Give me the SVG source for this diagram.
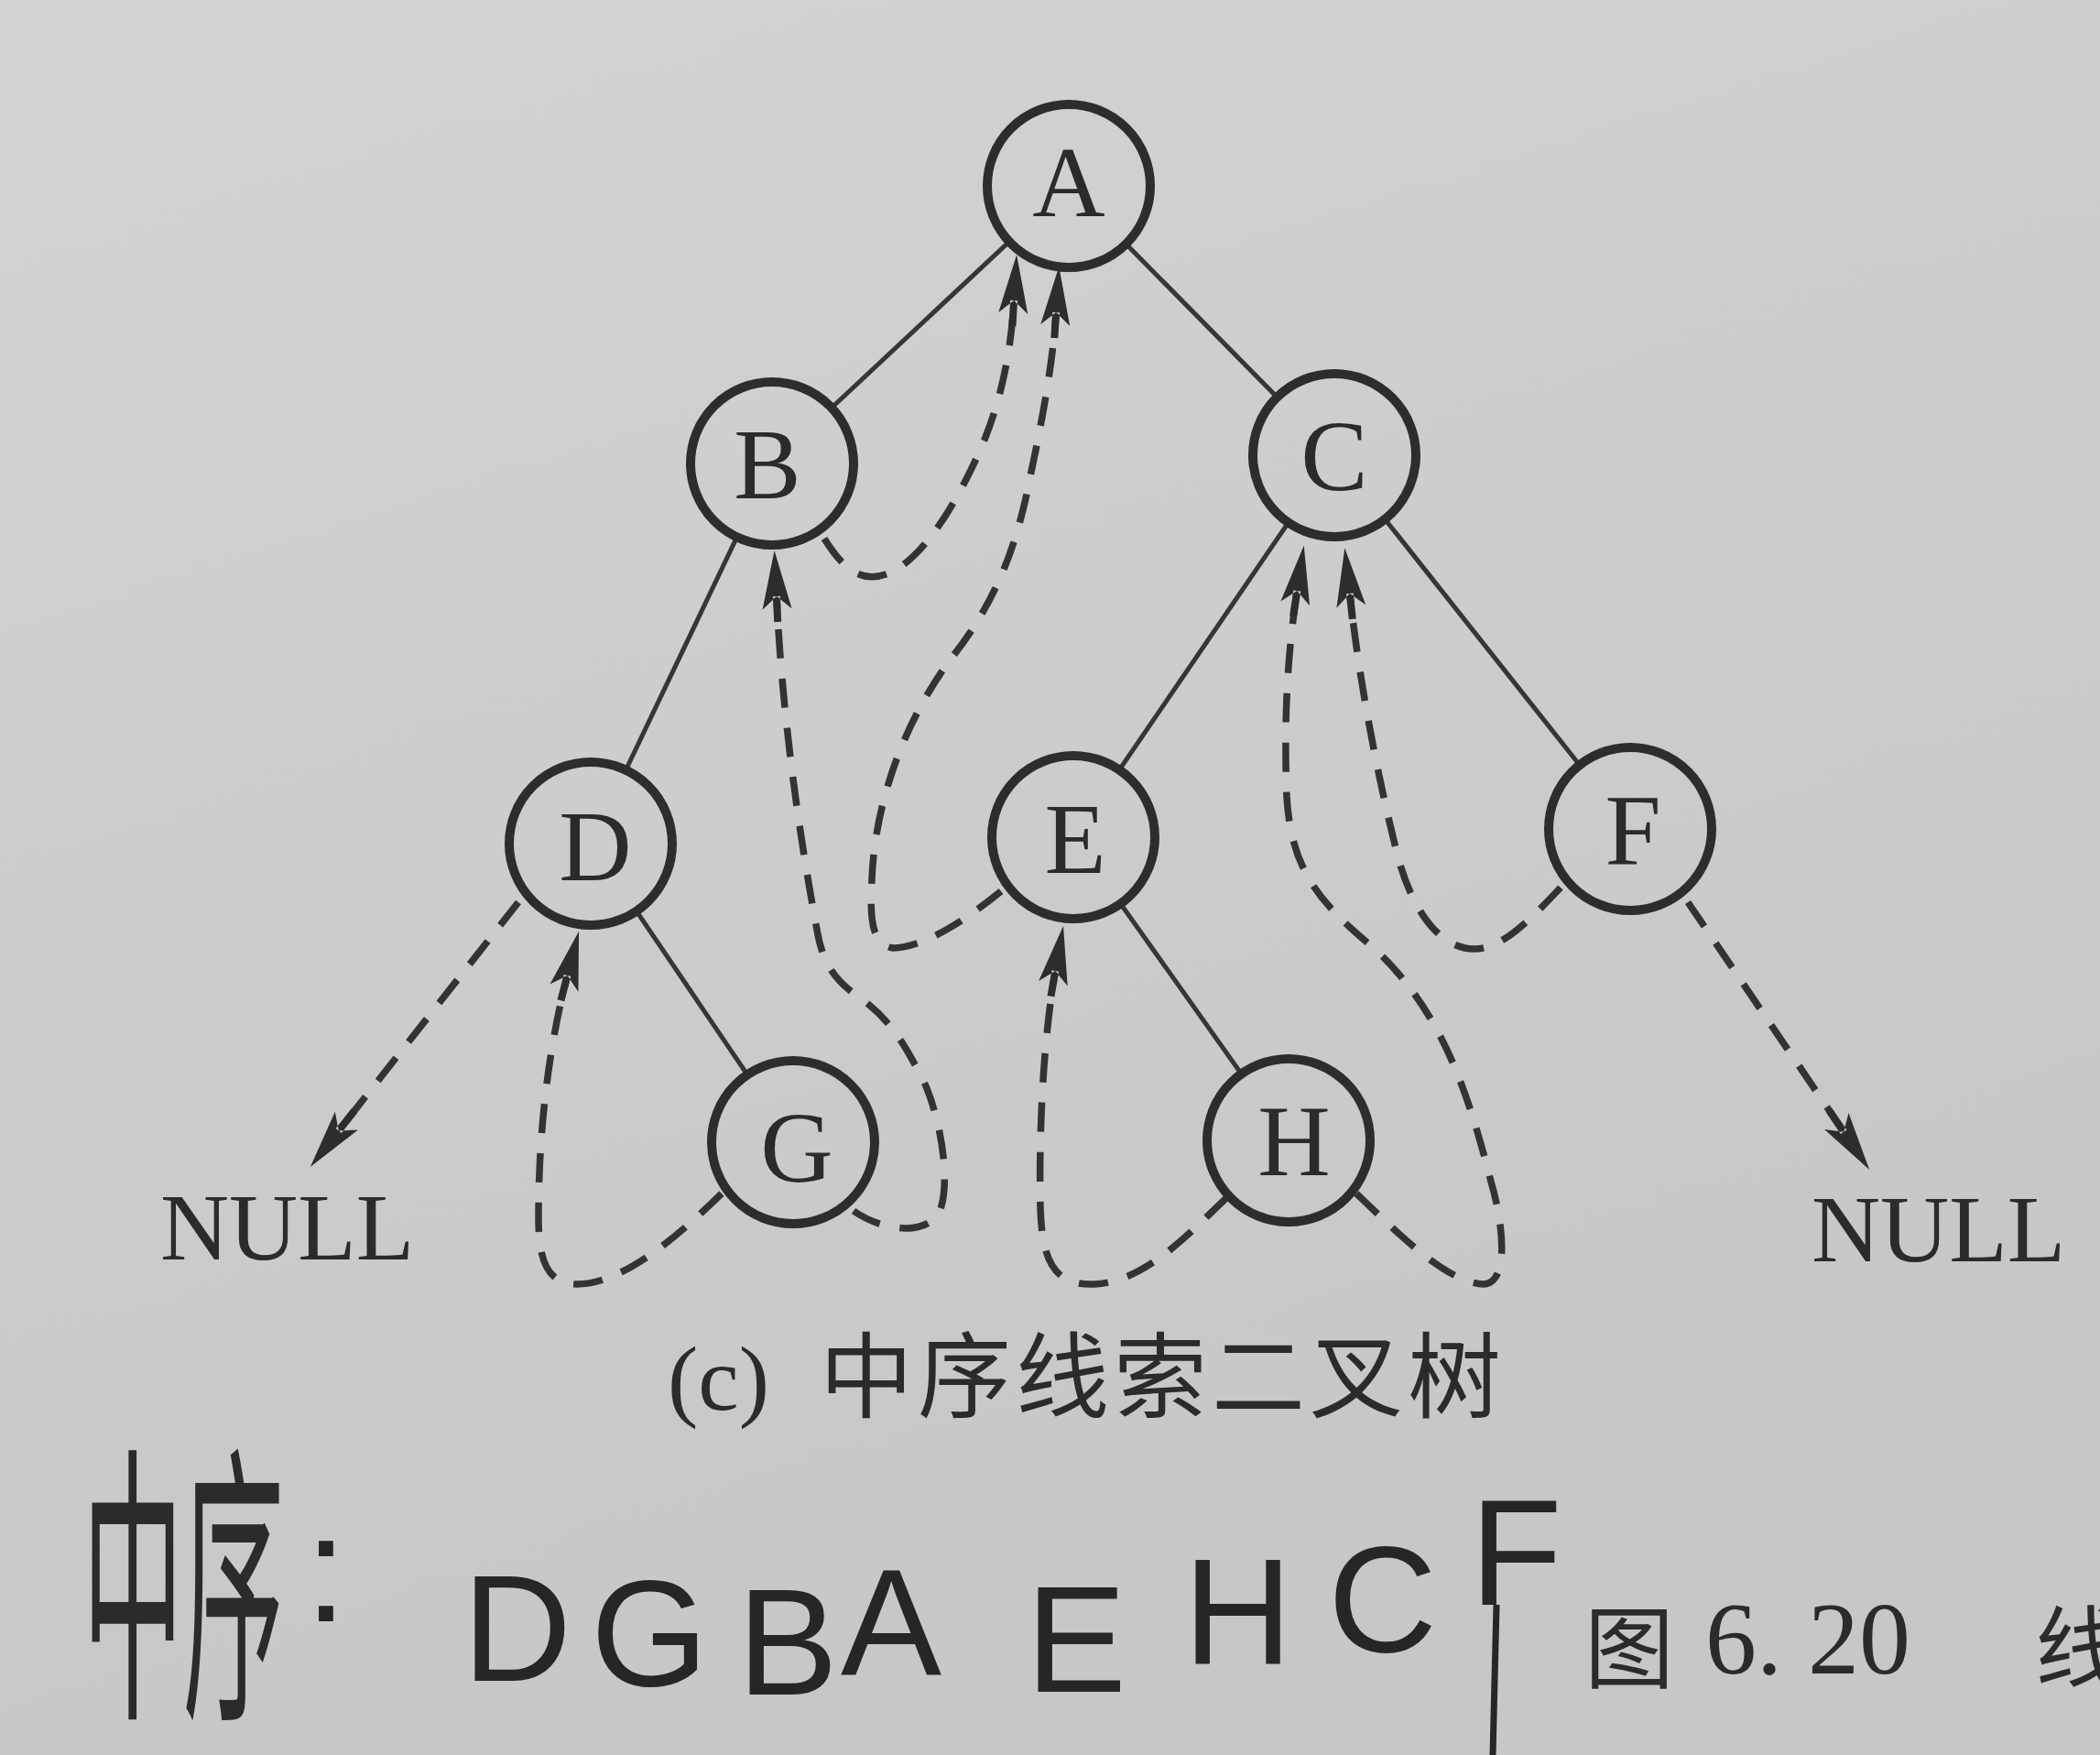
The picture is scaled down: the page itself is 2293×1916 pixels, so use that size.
<svg xmlns="http://www.w3.org/2000/svg" width="2293" height="1916" viewBox="0 0 2293 1916">
<defs>
<linearGradient id="bgGrad" gradientUnits="userSpaceOnUse" x1="0" y1="0" x2="600" y2="1916">
<stop offset="0" stop-color="#d3d3d1"/>
<stop offset="1" stop-color="#c7c7c5"/>
</linearGradient>
<marker id="ah" markerUnits="userSpaceOnUse" orient="auto" refX="0" refY="0" markerWidth="200" markerHeight="200" viewBox="-100 -100 200 200" overflow="visible">
<path d="M52,0 L-12,-16 L2,0 L-12,16 Z M-26,-4 L2,-4 L2,4 L-26,4 Z" fill="#2d2d2d"/>
</marker>
<style>
.node circle{fill:url(#bgGrad);stroke:#2d2d2d;stroke-width:10}
.node text{font-family:"Liberation Serif","Times New Roman",serif;font-size:110px;fill:#2b2b2b;text-anchor:middle}
.edge{stroke:#363636;stroke-width:5;fill:none}
.thread{fill:none;stroke:#333333;stroke-width:7.5;stroke-dasharray:32 22;marker-end:url(#ah)}
.null{fill:none;stroke:#333333;stroke-width:7.5;stroke-dasharray:32 22;marker-end:url(#ah)}
.serif{font-family:"Liberation Serif","Times New Roman",serif;fill:#2b2b2b}
.cjk{font-family:"Noto Sans CJK SC","Liberation Sans",sans-serif;fill:#2b2b2b}
.hand{font-family:"Liberation Sans","DejaVu Sans",sans-serif;font-size:165px;fill:#262626}
</style>
</defs>
<rect x="0" y="0" width="2293" height="1916" fill="url(#bgGrad)"/>

<g id="connectors">
<g id="tree-edges">
<line class="edge" x1="1167" y1="203" x2="843" y2="506"/>
<line class="edge" x1="1167" y1="203" x2="1457" y2="497"/>
<line class="edge" x1="843" y1="506" x2="645" y2="921"/>
<line class="edge" x1="1457" y1="497" x2="1172" y2="914"/>
<line class="edge" x1="1457" y1="497" x2="1780" y2="905"/>
<line class="edge" x1="645" y1="921" x2="866" y2="1247"/>
<line class="edge" x1="1172" y1="914" x2="1407" y2="1245"/>
</g>
<g id="threads">
<path id="t-D-null" class="null" d="M566,985 L371,1233"/>
<path id="t-F-null" class="null" d="M1843,985 L2012,1234"/>
<path id="t-G-D" class="thread" d="M788,1303 C740,1350 680,1402 630,1402 C597,1402 588,1375 588,1330 C588,1230 600,1140 619,1067"/>
<path id="t-G-B" class="thread" d="M932,1322 C965,1345 1015,1350 1027,1320 C1040,1280 1022,1200 1002,1168 C985,1135 968,1110 940,1090 C910,1070 898,1050 892,1015 C878,940 855,800 848,653"/>
<path id="t-B-A" class="thread" d="M900,588 C920,620 940,638 970,626 C1010,610 1050,540 1075,480 C1095,430 1104,380 1107,330"/>
<path id="t-E-A" class="thread" d="M1093,973 C1060,1000 1010,1035 975,1035 C950,1030 950,1000 952,960 C955,880 985,790 1040,717 C1085,660 1110,600 1125,520 C1140,450 1150,390 1153,343"/>
<path id="t-H-E" class="thread" d="M1340,1307 C1300,1345 1250,1400 1195,1402 C1150,1404 1138,1375 1136,1320 C1134,1230 1140,1130 1152,1062"/>
<path id="t-H-C" class="thread" d="M1481,1303 C1530,1350 1580,1400 1620,1402 C1650,1400 1640,1330 1628,1290 C1600,1180 1570,1100 1500,1035 C1440,985 1410,950 1405,870 C1402,790 1405,720 1416,647"/>
<path id="t-F-C" class="thread" d="M1704,969 C1670,1005 1640,1036 1610,1036 C1570,1036 1540,990 1525,930 C1505,850 1485,750 1474,650"/>
</g>
</g>

<g id="node-A" class="node"><circle cx="1167" cy="203" r="89"/><text x="1167" y="236">A</text></g>
<g id="node-B" class="node"><circle cx="843" cy="506" r="89"/><text x="838" y="544">B</text></g>
<g id="node-C" class="node"><circle cx="1457" cy="497" r="89"/><text x="1457" y="535">C</text></g>
<g id="node-D" class="node"><circle cx="645" cy="921" r="89"/><text x="650" y="961">D</text></g>
<g id="node-E" class="node"><circle cx="1172" cy="914" r="89"/><text x="1174" y="953">E</text></g>
<g id="node-F" class="node"><circle cx="1780" cy="905" r="89"/><text x="1783" y="944">F</text></g>
<g id="node-G" class="node"><circle cx="866" cy="1247" r="89"/><text x="870" y="1290">G</text></g>
<g id="node-H" class="node"><circle cx="1407" cy="1245" r="89"/><text x="1413" y="1283">H</text></g>

<g id="null-left"><text class="serif" x="175" y="1375" font-size="104">NULL</text></g>
<g id="null-right"><text class="serif" x="1978" y="1377" font-size="104">NULL</text></g>

<g id="caption">
<text class="serif" x="729" y="1539" font-size="100">(c)</text>
<text class="cjk" x="895" y="1540" font-size="102" letter-spacing="5">中序线索二叉树</text>
</g>

<g id="handwriting">
<text class="cjk" transform="matrix(0.55,0,0,1.6,90,1852)" font-size="200" fill="#222">中序</text>
<text class="hand" x="333" y="1770" font-size="120">:</text>
<text class="hand" x="505" y="1835">D</text>
<text class="hand" x="645" y="1840">G</text>
<text class="hand" x="805" y="1850">B</text>
<text class="hand" x="918" y="1828">A</text>
<text class="hand" x="1120" y="1847">E</text>
<text class="hand" x="1292" y="1817">H</text>
<text class="hand" x="1450" y="1803">C</text>
<text class="hand" x="1605" y="1752">F</text>
<path d="M1634,1752 L1630,1916" fill="none" stroke="#262626" stroke-width="7"/>
</g>

<g id="figure-label">
<text class="cjk" x="1730" y="1835" font-size="98">图</text>
<text class="serif" x="1862" y="1827" font-size="112">6. 20</text>
<text class="cjk" x="2222" y="1835" font-size="98">线</text>
</g>
</svg>
